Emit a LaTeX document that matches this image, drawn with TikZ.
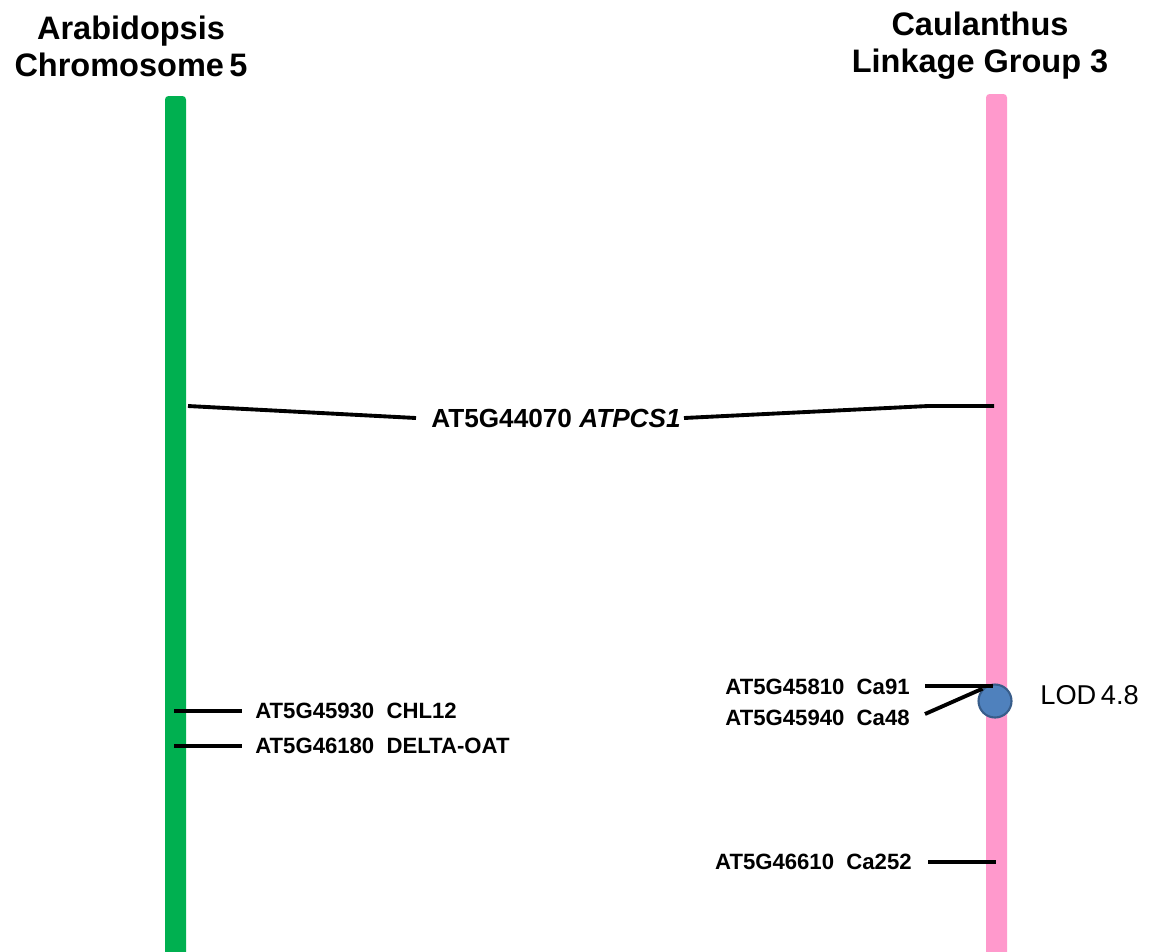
\documentclass[tikz,border=0pt]{standalone}
\usepackage{fontspec}
\setmainfont{Liberation Sans}
\definecolor{chrgreen}{HTML}{00B050}
\definecolor{chrpink}{HTML}{FF99CC}
\definecolor{lodblue}{HTML}{4F81BD}
\definecolor{lodedge}{HTML}{385D8A}
\tikzset{
  chrbar/.style={rounded corners=2pt},
  title/.style={font=\bfseries\fontsize{18.5}{21}\selectfont, align=center},
  marker/.style={font=\bfseries\fontsize{12.6}{14}\selectfont, inner sep=0pt},
  link/.style={line width=2.2pt}
}
\begin{document}
\begin{tikzpicture}[x=0.02cm, y=-0.02cm]
	\useasboundingbox (0,0) rectangle (1151,951);
	\clip (0,0) rectangle (1151,951);
	% chromosomes
	\fill[chrgreen, chrbar] (165,96) rectangle (186,980);
	\fill[chrpink, chrbar] (986,94) rectangle (1007,980);
	\node[title] (arab) at (131,46) {Arabidopsis\\Chromosome\,5};
	\node[title] (caul) at (980,46) {Caulanthus\\Linkage Group 3};
	% shared marker
	\coordinate (a1) at (188,406);
	\coordinate (c1) at (994,406);
	\coordinate (c1b) at (928,406);
	\node[marker, font=\bfseries\fontsize{14.9}{16}\selectfont] (atpcs) at (556,418) {AT5G44070 \textit{ATPCS1}};
	\draw[link] (a1) -- ([xshift=-0.3cm]atpcs.west);
	\draw[link] ([xshift=0.06cm]atpcs.east) -- (c1b) -- (c1);
	% Arabidopsis markers
	\coordinate (a2) at (174,711);
	\coordinate (a3) at (174,746);
	\node[marker, anchor=west] (chl) at (255,711) {AT5G45930\ \ CHL12};
	\node[marker, anchor=west] (oat) at (255,746) {AT5G46180\ \ DELTA-OAT};
	\draw[link] (a2) -- ([xshift=-0.26cm]chl.west);
	\draw[link] (a3) -- ([xshift=-0.26cm]oat.west);
	% Caulanthus markers
	\node[circle, fill=lodblue, draw=lodedge, line width=1.2pt, minimum size=0.66cm, inner sep=0pt] (lod) at (995,701) {};
	\node[font=\fontsize{15.5}{17}\selectfont, anchor=west, inner sep=0pt] (lodtxt) at (1040,695) {LOD\,4.8};
	\coordinate (c2) at (993,686);
	\coordinate (c2b) at (925,686);
	\coordinate (c3b) at (925,714);
	\coordinate (c4) at (996,862);
	\coordinate (c4b) at (928,862);
	\node[marker, anchor=east] (ca91) at (910,687) {AT5G45810\ \ Ca91};
	\node[marker, anchor=east] (ca48) at (910,718) {AT5G45940\ \ Ca48};
	\node[marker, anchor=east] (ca252) at (912,862) {AT5G46610\ \ Ca252};
	\draw[link] (c2b) -- (c2);
	\draw[link] (c3b) -- (lod.north west);
	\draw[link] (c4b) -- (c4);
\end{tikzpicture}
\end{document}
